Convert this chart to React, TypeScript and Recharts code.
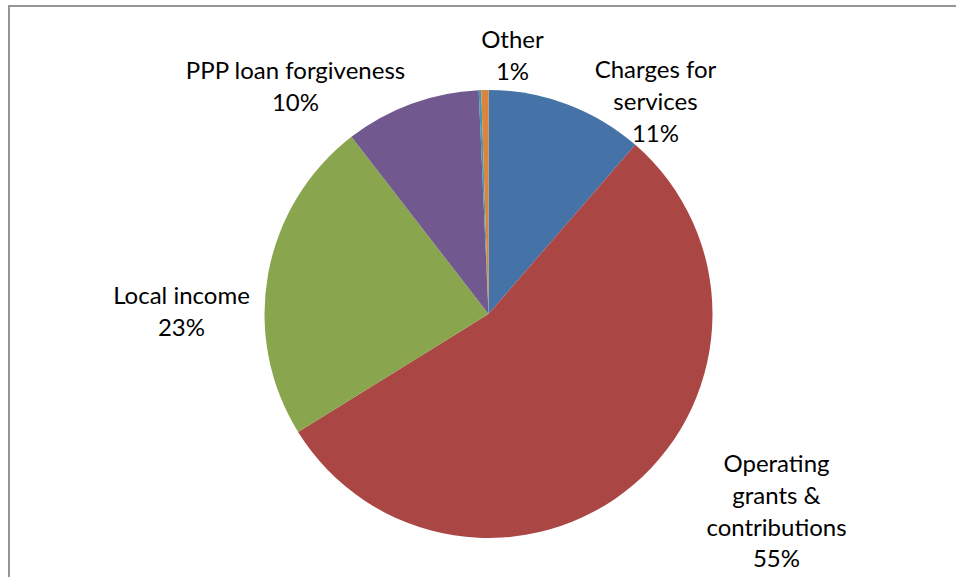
import React from "react";
import { PieChart, Pie, Cell } from "recharts";

const categories = [
  "Charges for services",
  "Operating grants & contributions",
  "Local income",
  "PPP loan forgiveness",
  "",
  "Other",
];
const values = [11.4, 54.9, 23.4, 9.8, 0.18, 0.52];
const colors = ["#4572A7", "#AA4643", "#89A54E", "#71588F", "#4198AF", "#DB843D"];
const labelLines = [
  ["Charges for", "services"],
  ["Operating", "grants &", "contributions"],
  ["Local income"],
  ["PPP loan forgiveness"],
  [],
  ["Other"],
];
// label block layout (center x offset, first-line y offset, from pie center)
const labelLayout = [
  { dx: 167, dy: -246 },
  { dx: 288, dy: 148 },
  { dx: -307, dy: -20 },
  { dx: -193, dy: -245 },
  { dx: 0, dy: 0 },
  { dx: 24, dy: -276 },
];

const data = categories.map((name, i) => ({ name, value: values[i] }));

const LINE_H = 31.8;

const renderLabel = (props: any) => {
  const { cx, cy, index, percent } = props;
  const lines = labelLines[index];
  if (!lines || lines.length === 0) return null;
  const { dx, dy } = labelLayout[index];
  const x = cx + dx;
  const y = cy + dy;
  const all = [...lines, `${Math.round(percent * 100)}%`];
  return (
    <text
      x={x}
      y={y}
      textAnchor="middle"
      dominantBaseline="central"
      fill="#000"
      style={{ fontFamily: "Lato, 'Open Sans', sans-serif", fontSize: 24 }}
    >
      {all.map((t, i) => (
        <tspan key={i} x={x} y={y + i * LINE_H}>
          {t}
        </tspan>
      ))}
    </text>
  );
};

export default function App() {
  return (
    <div
      style={{
        position: "absolute",
        left: 8,
        top: 5,
        width: 948,
        height: 572,
        borderTop: "2px solid #959595",
        borderLeft: "2px solid #959595",
        overflow: "hidden",
        background: "#fff",
      }}
    >
      <PieChart width={946} height={570} margin={{ top: 0, right: 0, bottom: 0, left: 0 }}>
        <Pie
          data={data}
          dataKey="value"
          nameKey="name"
          cx={478.5}
          cy={307}
          outerRadius={224}
          startAngle={90}
          endAngle={-270}
          stroke="none"
          isAnimationActive={false}
          labelLine={false}
          label={renderLabel}
        >
          {data.map((d, i) => (
            <Cell key={i} fill={colors[i]} />
          ))}
        </Pie>
      </PieChart>
    </div>
  );
}
